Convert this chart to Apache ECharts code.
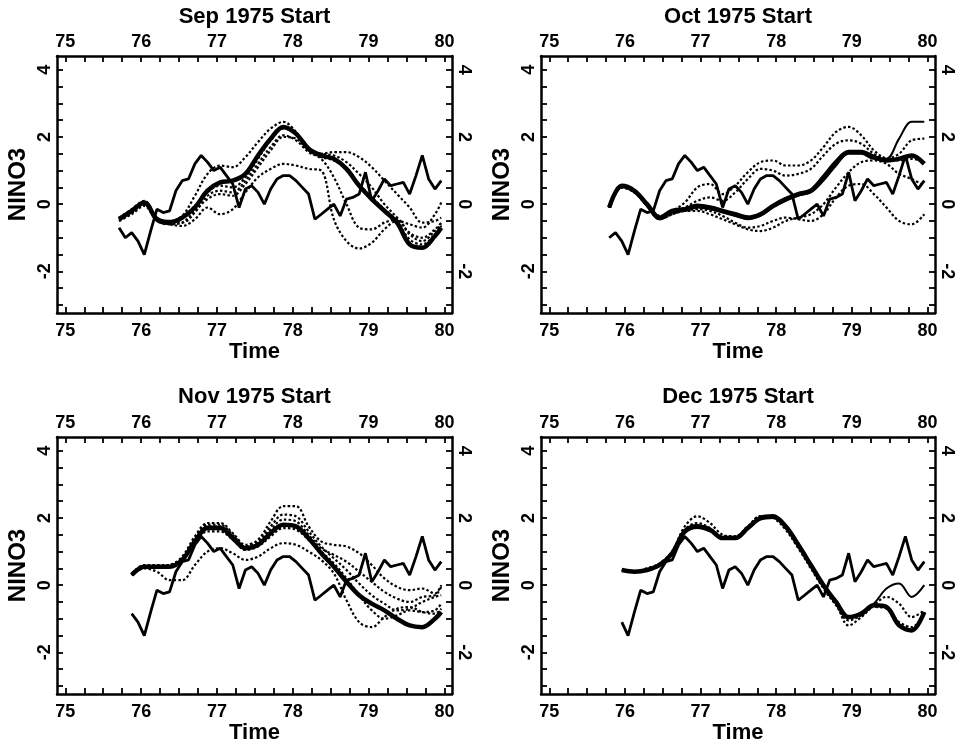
<!DOCTYPE html>
<html>
<head>
<meta charset="utf-8">
<script src="https://cdn.jsdelivr.net/npm/echarts@6/dist/echarts.min.js"></script>
<style>
  html, body { margin: 0; padding: 0; background: #fff; }
  #chart { width: 960px; height: 751px; }
</style>
</head>
<body>
<div id="chart"></div>
<script>
// observed NINO3, one value per month, Sep 1975 .. Dec 1979
const obsStart = [1975, 9];
const observed = [
  -0.7, -1.0, -0.85, -1.1,
  -1.5, -0.8, -0.15, -0.25, -0.2, 0.4, 0.7, 0.75, 1.2, 1.45, 1.25, 1.0,
  1.1, 0.85, 0.6, -0.1, 0.45, 0.55, 0.35, 0.0, 0.45, 0.75, 0.85, 0.85,
  0.7, 0.5, 0.3, -0.45, -0.3, -0.15, 0.0, -0.35, 0.15, 0.2, 0.3, 0.95,
  0.1, 0.4, 0.75, 0.55, 0.6, 0.65, 0.3, 0.85, 1.45, 0.75, 0.45, 0.7
];

// axis ticks / labels
const xMajor = [75, 76, 77, 78, 79, 80];
const yMajor = [-2, 0, 2, 4];

// forecasts: one value every 2 months from the start month, last value Dec 1979
// Sep 1975 start
const sepThick = [-0.45, -0.2, 0.05, -0.45, -0.55, -0.4, -0.1, 0.4, 0.65, 0.7, 0.9, 1.45, 1.95, 2.3, 2.1, 1.65, 1.45, 1.35, 1.05, 0.55, 0.15, -0.2, -0.55, -1.2, -1.3, -0.95, -0.7];
const sepDot1 = [-0.4, -0.15, 0.1, -0.4, -0.5, -0.35, 0.25, 0.9, 1.15, 1.1, 1.4, 1.85, 2.25, 2.45, 2.15, 1.6, 1.5, 1.55, 1.55, 1.4, 1.1, 0.7, 0.3, -0.1, -0.55, -0.5, -0.4];
const sepDot2 = [-0.5, -0.25, 0.0, -0.5, -0.6, -0.65, -0.45, -0.1, -0.3, -0.15, 0.35, 0.8, 1.05, 1.2, 1.15, 1.05, 1.0, -0.45, -1.1, -1.32, -1.15, -0.75, -0.5, -0.6, -0.7, -0.3, 0.05];
const sepDot3 = [-0.45, -0.25, 0.0, -0.45, -0.55, -0.55, -0.25, 0.25, 0.4, 0.35, 0.7, 1.2, 1.7, 2.05, 1.9, 1.55, 1.35, 0.8, 0.0, -0.7, -0.75, -0.55, -0.45, -0.9, -1.1, -0.8, -0.6];
const sepDot4 = [-0.4, -0.2, 0.05, -0.4, -0.5, -0.4, -0.05, 0.35, 0.55, 0.5, 0.8, 1.35, 1.9, 2.25, 2.1, 1.65, 1.5, 1.45, 1.25, 0.9, 0.5, 0.0, -0.4, -0.85, -1.0, -0.75, -0.55];
const sepDot5 = [-0.5, -0.3, -0.05, -0.5, -0.6, -0.55, -0.2, 0.15, 0.3, 0.25, 0.6, 1.1, 1.6, 2.0, 1.95, 1.6, 1.4, 1.3, 1.05, 0.6, 0.2, -0.15, -0.5, -1.05, -1.2, -0.9, -0.65];

// Oct 1975 start
const octThick = [-0.1, 0.55, 0.4, 0.0, -0.4, -0.2, -0.15, -0.05, -0.1, -0.2, -0.3, -0.4, -0.3, -0.05, 0.15, 0.3, 0.4, 0.8, 1.25, 1.55, 1.55, 1.4, 1.3, 1.35, 1.45, 1.2];
const octSolid = [-0.1, 0.5, 0.35, -0.05, -0.45, -0.25, -0.2, -0.1, -0.15, -0.25, -0.35, -0.45, -0.35, -0.1, 0.1, 0.25, 0.35, 0.7, 1.15, 1.5, 1.5, 1.35, 1.35, 1.95, 2.45, 2.45];
const octDot1 = [-0.1, 0.5, 0.35, -0.05, -0.35, -0.2, 0.05, 0.5, 0.6, 0.3, 0.55, 0.95, 1.25, 1.3, 1.15, 1.15, 1.3, 1.7, 2.15, 2.3, 2.05, 1.6, 1.35, 1.3, 1.35, 1.25];
const octDot2 = [-0.1, 0.5, 0.4, -0.05, -0.4, -0.25, -0.1, 0.1, 0.2, 0.1, 0.35, 0.75, 1.05, 1.0, 0.85, 0.9, 1.05, 1.45, 1.8, 1.9, 1.8, 1.5, 1.35, 1.5, 1.9, 1.95];
const octDot3 = [-0.1, 0.55, 0.4, -0.05, -0.45, -0.3, -0.2, -0.2, -0.3, -0.45, -0.6, -0.75, -0.8, -0.7, -0.5, -0.4, -0.3, 0.0, 0.5, 0.95, 1.25, 1.3, 1.2, 0.9, 0.75, 0.55];
const octDot4 = [-0.1, 0.5, 0.35, -0.05, -0.45, -0.3, -0.2, -0.15, -0.2, -0.35, -0.55, -0.7, -0.65, -0.5, -0.4, -0.45, -0.5, -0.3, 0.2, 0.55, 0.6, 0.3, -0.1, -0.5, -0.6, -0.3];

// Nov 1975 start
const novThick = [0.3, 0.55, 0.55, 0.55, 0.75, 1.3, 1.7, 1.7, 1.4, 1.1, 1.2, 1.55, 1.8, 1.75, 1.4, 0.95, 0.55, 0.1, -0.3, -0.55, -0.75, -1.0, -1.2, -1.25, -1.0, -0.8];
const novDot1 = [0.35, 0.6, 0.6, 0.6, 0.85, 1.45, 1.85, 1.85, 1.55, 1.2, 1.35, 1.9, 2.35, 2.35, 1.75, 1.3, 1.2, 1.15, 0.95, 0.6, 0.2, -0.05, -0.15, -0.1, -0.25, 0.0];
const novDot2 = [0.3, 0.55, 0.55, 0.6, 0.8, 1.4, 1.8, 1.8, 1.5, 1.15, 1.3, 1.75, 2.1, 2.05, 1.6, 1.15, 0.8, 0.45, 0.05, -0.3, -0.55, -0.75, -0.7, -0.5, -0.35, -0.3];
const novDot3 = [0.3, 0.5, 0.4, 0.15, 0.15, 0.6, 1.0, 1.1, 0.95, 0.75, 0.85, 1.1, 1.25, 1.2, 1.0, 0.75, 0.35, -0.45, -1.1, -1.25, -0.95, -0.7, -0.65, -0.8, -0.85, -0.7];
const novDot4 = [0.3, 0.55, 0.55, 0.55, 0.75, 1.25, 1.6, 1.6, 1.35, 1.05, 1.15, 1.45, 1.7, 1.65, 1.35, 1.0, 0.65, 0.2, -0.3, -0.75, -1.0, -0.9, -0.75, -0.8, -0.75, -0.55];
const novDot5 = [0.3, 0.55, 0.55, 0.6, 0.8, 1.35, 1.75, 1.75, 1.45, 1.1, 1.25, 1.65, 1.95, 1.9, 1.5, 1.1, 0.9, 0.7, 0.4, 0.1, -0.2, -0.4, -0.5, -0.35, -0.3, -0.05];

// Dec 1975 start
const decThick = [0.45, 0.4, 0.45, 0.6, 0.95, 1.6, 1.75, 1.65, 1.4, 1.4, 1.7, 2.0, 2.05, 1.75, 1.2, 0.6, 0.0, -0.5, -0.95, -0.85, -0.6, -0.65, -1.2, -1.35, -0.8];
const decSolid = [0.45, 0.4, 0.45, 0.6, 0.95, 1.55, 1.7, 1.6, 1.4, 1.4, 1.7, 1.95, 2.0, 1.7, 1.15, 0.55, -0.05, -0.55, -0.95, -0.8, -0.55, -0.1, 0.05, -0.35, 0.0];
const decDot1 = [0.45, 0.4, 0.45, 0.6, 1.0, 1.75, 2.05, 1.85, 1.5, 1.45, 1.75, 2.05, 2.05, 1.7, 1.15, 0.55, -0.05, -0.55, -1.2, -0.95, -0.6, -0.35, -0.55, -0.95, -0.75];
const decDot2 = [0.45, 0.4, 0.5, 0.65, 1.0, 1.65, 1.85, 1.7, 1.45, 1.45, 1.75, 2.05, 2.0, 1.65, 1.1, 0.5, -0.1, -0.6, -1.05, -0.9, -0.65, -0.7, -1.1, -1.25, -0.85];

const panels = [
  { title: 'Sep 1975 Start', start: [1975, 9], thick: sepThick, solid: [], dotted: [sepDot1, sepDot2, sepDot3, sepDot4, sepDot5] },
  { title: 'Oct 1975 Start', start: [1975, 10], thick: octThick, solid: [octSolid], dotted: [octDot1, octDot2, octDot3, octDot4] },
  { title: 'Nov 1975 Start', start: [1975, 11], thick: novThick, solid: [], dotted: [novDot1, novDot2, novDot3, novDot4, novDot5] },
  { title: 'Dec 1975 Start', start: [1975, 12], thick: decThick, solid: [decSolid], dotted: [decDot1, decDot2] }
];

const grids = [
  { left: 57, top: 56, width: 395, height: 257 },
  { left: 541, top: 56, width: 394, height: 257 },
  { left: 57, top: 437, width: 395, height: 257 },
  { left: 541, top: 437, width: 394, height: 257 }
];
const titleTops = [6, 386, ];

const X_MIN = 74.89, X_MAX = 80.1, Y_MIN = -3.24, Y_MAX = 4.41;
const END_IDX = 1979 * 12 + 11;

const xMinor = [];
for (let v = 75; v <= 80.001; v += 0.25) xMinor.push(+v.toFixed(2));
const yMinor = [];
for (let v = -3; v <= 4.001; v += 0.5) yMinor.push(v);

// month index -> position on the "year" axis (75 = 1975), at the month centre
const monthIdx = ym => ym[0] * 12 + ym[1] - 1;
const idxPos = t => Math.floor(t / 12) - 1900 + ((t % 12) + 0.5) / 12;

function forecastTimes(start) {
  const out = [];
  for (let t = monthIdx(start); t <= END_IDX; t += 2) out.push(t);
  if (out[out.length - 1] !== END_IDX) out.push(END_IDX);
  return out.map(idxPos);
}

const FONT = "'Liberation Sans', Arial, Helvetica, sans-serif";
const lblStyle = { color: '#000', fontFamily: FONT, fontWeight: 'bold', fontSize: 18 };
const frameLine = { show: true, onZero: false, lineStyle: { color: '#000', width: 2.5 } };
const tickStyle = { show: true, inside: true, length: 6, customValues: null, lineStyle: { color: '#000', width: 1.8 } };

const option = {
  backgroundColor: '#fff',
  animation: false,
  title: [],
  grid: [],
  xAxis: [],
  yAxis: [],
  series: []
};

panels.forEach((p, gi) => {
  const g = grids[gi];
  option.grid.push(Object.assign({ containLabel: false }, g));
  option.title.push({
    text: p.title,
    left: g.left + g.width / 2,
    top: gi < 2 ? 6 : 386,
    textAlign: 'center',
    padding: 0,
    textStyle: { color: '#000', fontFamily: FONT, fontWeight: 'bold', fontSize: 22 }
  });

  const xBase = { type: 'value', gridIndex: gi, min: X_MIN, max: X_MAX, splitLine: { show: false }, axisLine: frameLine,
    axisTick: Object.assign({}, tickStyle, { customValues: xMinor }) };
  option.xAxis.push(Object.assign({}, xBase, {
    position: 'bottom',
    axisLabel: Object.assign({ customValues: xMajor, margin: 9 }, lblStyle),
    name: 'Time', nameLocation: 'middle', nameGap: 28,
    nameTextStyle: { color: '#000', fontFamily: FONT, fontWeight: 'bold', fontSize: 22 }
  }));
  option.xAxis.push(Object.assign({}, xBase, {
    position: 'top',
    axisLabel: Object.assign({ customValues: xMajor, margin: 5 }, lblStyle)
  }));

  const yBase = { type: 'value', gridIndex: gi, min: Y_MIN, max: Y_MAX, splitLine: { show: false }, axisLine: frameLine,
    axisTick: Object.assign({}, tickStyle, { customValues: yMinor }) };
  option.yAxis.push(Object.assign({}, yBase, {
    position: 'left',
    axisLabel: Object.assign({ customValues: yMajor, margin: 3, rotate: 90 }, lblStyle),
    name: 'NINO3', nameLocation: 'middle', nameGap: 27, nameRotate: 90,
    nameTextStyle: { color: '#000', fontFamily: FONT, fontWeight: 'bold', fontSize: 24 }
  }));
  option.yAxis.push(Object.assign({}, yBase, {
    position: 'right',
    axisLabel: Object.assign({ customValues: yMajor, margin: 3, rotate: -90 }, lblStyle)
  }));

  const xi = gi * 2, yi = gi * 2;
  const fcT = forecastTimes(p.start);
  const mkLine = (ys, ls, smooth, z) => ({
    type: 'line', xAxisIndex: xi, yAxisIndex: yi, silent: true, symbol: 'none', showSymbol: false,
    smooth: smooth, z: z, lineStyle: ls,
    data: fcT.map((t, i) => [t, ys[i]])
  });

  p.dotted.forEach(d => option.series.push(mkLine(d, { color: '#000', width: 2.2, type: [2.5, 2.2] }, 0.35, 2)));
  p.solid.forEach(d => option.series.push(mkLine(d, { color: '#000', width: 2 }, 0.35, 3)));
  option.series.push(mkLine(p.thick, { color: '#000', width: 4.5 }, 0.35, 4));

  // observed, from the panel's start month
  const off = monthIdx(p.start) - monthIdx(obsStart);
  option.series.push({
    type: 'line', xAxisIndex: xi, yAxisIndex: yi, silent: true, symbol: 'none', showSymbol: false, z: 5,
    lineStyle: { color: '#000', width: 2.8 },
    data: observed.slice(off).map((v, i) => [idxPos(monthIdx(p.start) + i), v])
  });
});

const chart = echarts.init(document.getElementById('chart'), null, { renderer: 'canvas' });
chart.setOption(option);
</script>
</body>
</html>
